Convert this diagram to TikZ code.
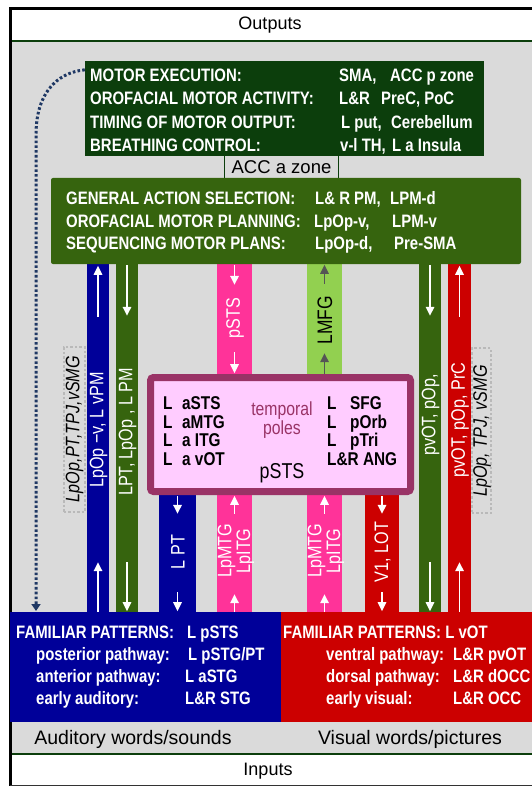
\documentclass[tikz,border=0pt]{standalone}
\usepackage{fontspec}
\setmainfont{Liberation Sans}
\newfontfamily\cond{Liberation Sans}[FakeStretch=0.83]
\usetikzlibrary{arrows.meta}
\definecolor{bgg}{RGB}{218,218,218}
\definecolor{dkg}{RGB}{12,62,12}
\definecolor{mdg}{RGB}{54,100,14}
\definecolor{blu}{RGB}{0,0,153}
\definecolor{rd}{RGB}{204,0,0}
\definecolor{pnk}{RGB}{255,51,153}
\definecolor{lgr}{RGB}{146,208,80}
\definecolor{mar}{RGB}{153,51,102}
\definecolor{lpk}{RGB}{255,204,255}
\definecolor{nav}{RGB}{31,56,100}
\definecolor{dgry}{RGB}{85,85,85}
\tikzset{
  boxtxt/.style={anchor=base west, inner sep=0pt, text=white, font=\cond\bfseries\fontsize{18}{18}\selectfont},
  pinktxt/.style={anchor=base west, inner sep=0pt, text=black, font=\cond\bfseries\fontsize{18.5}{18}\selectfont},
  bandlbl/.style={rotate=90, inner sep=0pt, text=white, font=\cond\fontsize{19.5}{18}\selectfont},
  band/.style={draw=none, inner sep=0pt, minimum width=#1},
  uarr/.style={draw=white, line width=1.6pt, -{Triangle[length=9pt,width=8.5pt]}},
  garr/.style={draw=dgry, line width=1.6pt, -{Triangle[length=9pt,width=8.5pt]}},
  dotbox/.style={draw=gray!55, line width=2pt, dash pattern=on 2.5pt off 2pt, minimum width=21pt, minimum height=165pt, inner sep=0pt},
  itlbl/.style={rotate=90, inner sep=0pt, text=black, font=\cond\itshape\fontsize{19.5}{18}\selectfont},
  bigtxt/.style={inner sep=0pt, text=black, font=\fontsize{19.5}{20}\selectfont},
}
\begin{document}
\begin{tikzpicture}[x=1pt,y=-1pt]
\useasboundingbox (0,0) rectangle (532,786);
\fill[white] (0,0) rectangle (532,786);
% background
\fill[bgg] (10,41) rectangle (532,754);
% headers
\node[inner sep=0pt, font=\fontsize{18}{18}\selectfont] (outputs) at (270,25) {Outputs};
\node[inner sep=0pt, font=\fontsize{18}{18}\selectfont] (inputs) at (268,771) {Inputs};
\draw[dkg, line width=2.2pt] (10,41) -- (532,41);
\draw[dkg, line width=2.2pt] (10,754) -- (532,754);
\draw[black, line width=2.5pt] (10.5,786) -- (10.5,8.5) -- (532,8.5);
\draw[black!80, line width=1.5pt] (10,785.5) -- (532,785.5);

% bands
\node[band=22pt, fill=blu, minimum height=348pt] (b1) at (98,438) {};
\node[band=22pt, fill=mdg, minimum height=348pt] (g1) at (127,438) {};
\node[band=37pt, fill=blu, minimum height=117pt] (b2) at (177.5,553.5) {};
\node[band=35pt, fill=pnk, minimum height=110pt] (p1u) at (234.5,319) {};
\node[band=35pt, fill=pnk, minimum height=117pt] (p1l) at (234.5,553.5) {};
\node[band=35pt, fill=lgr, minimum height=110pt] (lm) at (324.5,319) {};
\node[band=35pt, fill=pnk, minimum height=117pt] (p2l) at (324.5,553.5) {};
\node[band=34pt, fill=rd, minimum height=117pt] (r1) at (382,553.5) {};
\node[band=22pt, fill=mdg, minimum height=348pt] (g2) at (430,438) {};
\node[band=23pt, fill=rd, minimum height=348pt] (r2) at (459.5,438) {};

% arrows in bands
\draw[uarr] ([yshift=-53pt]b1.north) -- ([yshift=-2pt]b1.north);
\draw[uarr] (b1.south) -- ([yshift=50pt]b1.south);
\draw[uarr] ([yshift=-1pt]g1.north) -- ([yshift=-52pt]g1.north);
\draw[uarr] ([yshift=50pt]g1.south) -- ([yshift=1pt]g1.south);
\draw[uarr] ([yshift=-1pt]b2.north) -- ([yshift=-19pt]b2.north);
\draw[uarr] ([yshift=20pt]b2.south) -- ([yshift=1pt]b2.south);
\draw[uarr] ([yshift=-1pt]p1u.north) -- ([yshift=-21pt]p1u.north);
\draw[uarr] ([yshift=22pt]p1u.south) -- ([yshift=1pt]p1u.south);
\draw[uarr] ([yshift=-19pt]p1l.north) -- ([yshift=-1pt]p1l.north);
\draw[uarr] (p1l.south) -- ([yshift=18pt]p1l.south);
\draw[garr] ([yshift=-20pt]lm.north) -- ([yshift=-1pt]lm.north);
\draw[garr] (lm.south) -- ([yshift=21pt]lm.south);
\draw[uarr] ([yshift=-19pt]p2l.north) -- ([yshift=-1pt]p2l.north);
\draw[uarr] (p2l.south) -- ([yshift=18pt]p2l.south);
\draw[uarr] ([yshift=-1pt]r1.north) -- ([yshift=-19pt]r1.north);
\draw[uarr] ([yshift=20pt]r1.south) -- ([yshift=1pt]r1.south);
\draw[uarr] ([yshift=-1pt]g2.north) -- ([yshift=-52pt]g2.north);
\draw[uarr] ([yshift=50pt]g2.south) -- ([yshift=1pt]g2.south);
\draw[uarr] ([yshift=-53pt]r2.north) -- ([yshift=-2pt]r2.north);
\draw[uarr] (r2.south) -- ([yshift=50pt]r2.south);

% band labels
\node[bandlbl] (lb1) at (98.5,430) {LpOp −v, L vPM};
\node[bandlbl] (lg1) at (127.5,432) {LPT, LpOp , L PM};
\node[bandlbl] (lb2) at (178,552) {L PT};
\node[bandlbl] (lp1u) at (235,318) {pSTS};
\node[bandlbl, align=center, font=\cond\fontsize{19.5}{17}\selectfont] (lp1l) at (236,551) {LpMTG\\LpITG};
\node[bandlbl, text=black, font=\cond\fontsize{21}{18}\selectfont] (llm) at (325,320) {LMFG};
\node[bandlbl, align=center, font=\cond\fontsize{19.5}{17}\selectfont] (lp2l) at (326,551) {LpMTG\\LpITG};
\node[bandlbl] (lr1) at (382.5,552) {V1, LOT};
\node[bandlbl] (lg2) at (430.5,415) {pvOT, pOp,};
\node[bandlbl] (lr2) at (460,420) {pvOT, pOp, PrC};

% dotted side boxes
\node[dotbox] (ld) at (74,429.5) {};
\node[itlbl] (ldt) at (74.5,429) {LpOp,PT,TPJ,vSMG};
\node[dotbox, minimum width=19pt] (rdb) at (481,430.5) {};
\node[itlbl] (rdt) at (482,431) {LpOp, TPJ, vSMG};

% top motor box
\node[fill=dkg, minimum width=399pt, minimum height=95pt, inner sep=0pt] (motor) at (284.5,108.5) {};
\node[boxtxt] (m1a) at (90,82) {MOTOR EXECUTION:};
\node[boxtxt] (m1b) at (339,82) {SMA,};
\node[boxtxt] (m1c) at (390,82) {ACC p zone};
\node[boxtxt] (m2a) at (90,105) {OROFACIAL MOTOR ACTIVITY:};
\node[boxtxt] (m2b) at (339,105) {L\&R};
\node[boxtxt] (m2c) at (381,105) {PreC, PoC};
\node[boxtxt] (m3a) at (90,128.5) {TIMING OF MOTOR OUTPUT:};
\node[boxtxt] (m3b) at (341,128.5) {L put,};
\node[boxtxt] (m3c) at (391,128.5) {Cerebellum};
\node[boxtxt] (m4a) at (90,152) {BREATHING CONTROL:};
\node[boxtxt] (m4b) at (340,152) {v-l TH,};
\node[boxtxt] (m4c) at (392,152) {L a Insula};

% ACC a zone
\node[fill=bgg, draw=dkg, line width=1.5pt, minimum width=114pt, minimum height=25pt, inner sep=0pt, font=\fontsize{18.5}{18}\selectfont] (acc) at (281.5,167.5) {ACC a zone};

% general action box
\node[fill=mdg, rounded corners=2pt, minimum width=470pt, minimum height=86pt, inner sep=0pt] (gen) at (286,221) {};
\node[boxtxt] (g1a) at (66,204.5) {GENERAL ACTION SELECTION:};
\node[boxtxt] (g1b) at (315,204.5) {L\& R PM,};
\node[boxtxt] (g1c) at (390,204.5) {LPM-d};
\node[boxtxt] (g2a) at (66,227) {OROFACIAL MOTOR PLANNING:};
\node[boxtxt] (g2b) at (314,227) {LpOp-v,};
\node[boxtxt] (g2c) at (392,227) {LPM-v};
\node[boxtxt] (g3a) at (66,249) {SEQUENCING MOTOR PLANS:};
\node[boxtxt] (g3b) at (315,249) {LpOp-d,};
\node[boxtxt] (g3c) at (394,249) {Pre-SMA};

% pink box
\node[fill=lpk, draw=mar, line width=7pt, rounded corners=3pt, minimum width=260pt, minimum height=114pt, inner sep=0pt] (pinkbox) at (280.5,434.5) {};
\node[pinktxt] (pl1) at (163,409) {L};
\node[pinktxt] (pl1n) at (182,409) {aSTS};
\node[pinktxt] (pl2) at (163,428) {L};
\node[pinktxt] (pl2n) at (182,428) {aMTG};
\node[pinktxt] (pl3) at (163,446.5) {L};
\node[pinktxt] (pl3n) at (182,446.5) {a ITG};
\node[pinktxt] (pl4) at (163,465) {L};
\node[pinktxt] (pl4n) at (182,465) {a vOT};
\node[pinktxt] (pr1) at (327,409) {L};
\node[pinktxt] (pr1n) at (350,409) {SFG};
\node[pinktxt] (pr2) at (327,428) {L};
\node[pinktxt] (pr2n) at (350,428) {pOrb};
\node[pinktxt] (pr3) at (327,446.5) {L};
\node[pinktxt] (pr3n) at (350,446.5) {pTri};
\node[pinktxt] (pr4) at (327,465) {L\&R ANG};
\node[inner sep=0pt, text=mar, font=\cond\fontsize{19}{16.5}\selectfont, align=center] (tp) at (282,420) {temporal\\poles};
\node[inner sep=0pt, text=black, font=\cond\fontsize{21.5}{19}\selectfont] (psts) at (282,473) {pSTS};

% bottom boxes
\node[fill=blu, minimum width=271pt, minimum height=110pt, inner sep=0pt] (aud) at (145.5,667) {};
\node[fill=rd, minimum width=251pt, minimum height=110pt, inner sep=0pt] (vis) at (406.5,667) {};
\node[boxtxt] (a1a) at (16,638.5) {FAMILIAR PATTERNS:};
\node[boxtxt] (a1b) at (187,638.5) {L pSTS};
\node[boxtxt] (a2a) at (36,660) {posterior pathway:};
\node[boxtxt] (a2b) at (188,660) {L pSTG/PT};
\node[boxtxt] (a3a) at (36,682) {anterior pathway:};
\node[boxtxt] (a3b) at (185,682) {L aSTG};
\node[boxtxt] (a4a) at (36,704) {early auditory:};
\node[boxtxt] (a4b) at (185,704) {L\&R STG};
\node[boxtxt] (v1a) at (283,638.5) {FAMILIAR PATTERNS: L vOT};
\node[boxtxt] (v2a) at (326,660) {ventral pathway:};
\node[boxtxt] (v2b) at (453,660) {L\&R pvOT};
\node[boxtxt] (v3a) at (326,682) {dorsal pathway:};
\node[boxtxt] (v3b) at (453,682) {L\&R dOCC};
\node[boxtxt] (v4a) at (326,704) {early visual:};
\node[boxtxt] (v4b) at (453,704) {L\&R OCC};

\node[bigtxt] (audw) at (133,739) {Auditory words/sounds};
\node[bigtxt] (visw) at (410,739) {Visual words/pictures};

% dotted feedback line
\coordinate (dotend) at (36,611);
\draw[nav, line width=3pt, dash pattern=on 2.6pt off 2.2pt, -{Triangle[length=7pt,width=9pt]}]
  ([yshift=-9pt]motor.north west) .. controls (55,73) and (36,95) .. (36,135) -- (dotend);
\end{tikzpicture}
\end{document}
